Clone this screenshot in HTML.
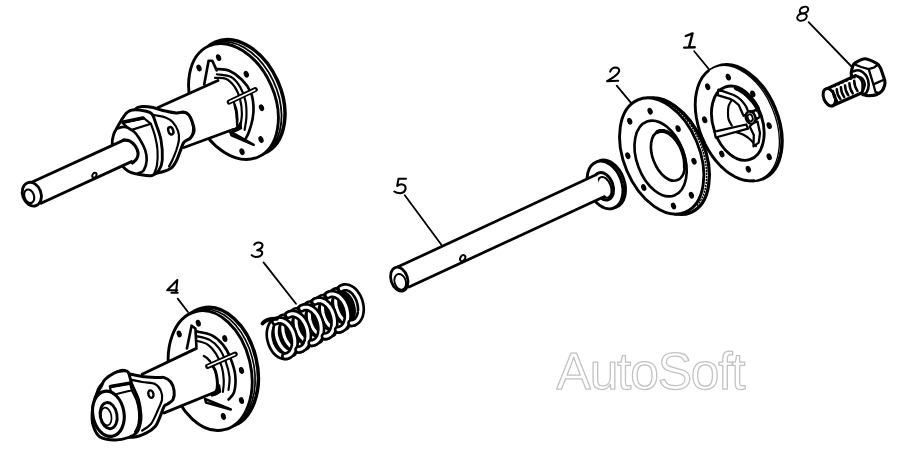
<!DOCTYPE html>
<html><head><meta charset="utf-8"><style>
html,body{margin:0;padding:0;background:#fff;width:900px;height:475px;overflow:hidden}
svg{display:block}
</style></head><body>
<svg width="900" height="475" viewBox="0 0 900 475" stroke="#000" stroke-linecap="round" stroke-linejoin="round" fill="none">
<path d="M692.6 33.4 L685.8 36 M692.6 33.4 L689 47.1 M684.2 47.6 L694.7 47.3" stroke-width="2.4" fill="none" />
<path d="M610.1 71.6 Q612 67.6 615.2 67.6 Q619.5 67.8 619.2 71.1 Q618 75 607.1 81.2 L618.2 80.7" stroke-width="2.04" fill="none" />
<path d="M406 178.8 L398.5 178.8 L397.2 186 Q400 184 401.8 184.3 Q405.8 185 405.6 188.5 Q405 192.8 400.2 193.2 Q396.5 193.2 394.3 191.5" stroke-width="2.04" fill="none" />
<path d="M254.3 244.7 Q256 242.6 258 242.6 Q262.7 242.6 262.5 245.5 Q262 249 257.2 250.2 Q262.7 250.6 262.2 253.2 Q261.5 256.9 256 256.9 Q253 256.9 251.7 255.2" stroke-width="2.04" fill="none" />
<path d="M177.3 280 L167.2 290.2 L177.3 290.2 M177.3 280 L176 292.7 M171.4 292.7 L177.7 292.7" stroke-width="2.04" fill="none" />
<ellipse cx="804" cy="10.1" rx="4.4" ry="3.1" transform="rotate(-25 804 10.1)" stroke-width="2.04" fill="none" /><ellipse cx="802" cy="17.1" rx="4.9" ry="3.5" transform="rotate(-20 802 17.1)" stroke-width="2.04" fill="none" />
<path d="M694.2 51.3 L709 69.2" stroke-width="1.8" fill="none" />
<path d="M616.7 85.7 L632.3 104.4" stroke-width="1.8" fill="none" />
<path d="M404.8 195.3 L442.3 246" stroke-width="1.8" fill="none" />
<path d="M263.5 262.4 L296 303.7" stroke-width="1.8" fill="none" />
<path d="M177.7 298.6 L188 312" stroke-width="1.8" fill="none" />
<path d="M808.6 22.1 L852 67" stroke-width="1.8" fill="none" />
<ellipse cx="240.1" cy="97.5" rx="41" ry="60.7" transform="rotate(-24 240.1 97.5)" stroke-width="3.48" fill="#fff" />
<path d="M195.0 63.6 L198.0 57.1 L201.9 51.6 L206.6 47.2 L212.0 44.0 L218.0 42.2 L224.4 41.6 L231.1 42.4 L238.0 44.5 L244.8 47.9 L251.4 52.5 L257.7 58.2 L263.5 64.9 L268.6 72.3 L273.0 80.4 L276.6 89.0 L279.3 97.7 L280.9 106.6 L281.6 115.2 L281.1 123.5 L279.7 131.3 L277.2 138.3 L273.8 144.3 L269.6 149.4 L264.6 153.3" stroke-width="1.8" fill="none" />
<ellipse cx="233.5" cy="101.5" rx="41" ry="60.7" transform="rotate(-24 233.5 101.5)" stroke-width="2.88" fill="#fff" />
<ellipse cx="199" cy="68" rx="1.6" ry="2.6" transform="rotate(-20 199 68)" stroke-width="1.8" fill="#000" />
<ellipse cx="218.6" cy="57.6" rx="1.6" ry="2.6" transform="rotate(-20 218.6 57.6)" stroke-width="1.8" fill="#000" />
<ellipse cx="246.3" cy="74.2" rx="1.6" ry="2.6" transform="rotate(-20 246.3 74.2)" stroke-width="1.8" fill="#000" />
<ellipse cx="261.5" cy="107.7" rx="1.6" ry="2.6" transform="rotate(-20 261.5 107.7)" stroke-width="1.8" fill="#000" />
<ellipse cx="261" cy="139.5" rx="1.6" ry="2.6" transform="rotate(-20 261 139.5)" stroke-width="1.8" fill="#000" />
<ellipse cx="242" cy="151.7" rx="1.6" ry="2.6" transform="rotate(-20 242 151.7)" stroke-width="1.8" fill="#000" />
<path d="M216.8 69.0 C218.9 69.3 225.1 69.0 229.3 70.8 C233.5 72.6 238.3 76.1 241.9 79.7 C245.5 83.3 248.9 87.8 250.8 92.3 C252.7 96.8 253.2 102.1 253.5 106.6 C253.8 111.1 253.3 114.9 252.6 119.1 C251.8 123.3 250.2 128.4 249.0 131.7 C247.8 135.0 246.1 137.7 245.5 138.9" stroke-width="2.64" fill="none" />
<path d="M216.8 74.3 C219.2 74.8 227.2 74.9 231.1 77.0 C235.0 79.1 237.7 82.9 240.1 86.9 C242.5 90.9 244.4 96.1 245.5 101.2 C246.6 106.3 246.6 112.5 246.4 117.3 C246.2 122.1 244.9 127.8 244.6 129.9" stroke-width="2.16" fill="none" />
<path d="M215.0 77.9 C216.8 78.1 222.5 77.3 225.8 78.8 C229.1 80.3 232.3 83.5 234.7 86.9 C237.1 90.3 238.9 94.9 240.1 99.4 C241.3 103.9 241.9 109.0 241.9 113.8 C241.9 118.6 240.4 125.7 240.1 128.1" stroke-width="2.16" fill="none" />
<path d="M232.9 101.2 C233.5 103.0 235.9 107.8 236.5 112.0 C237.1 116.2 237.1 123.0 236.5 126.3 C235.9 129.6 233.5 130.8 232.9 131.7" stroke-width="3.0" fill="none" />
<path d="M204.2 84.5 L208.6 60.8 L212.3 60.8 L216.7 70.4" stroke-width="2.64" fill="none" />
<path d="M230 131.3 L253.7 144.8 L231.5 135.3 Z" stroke-width="2.52" fill="#fff" />
<path d="M158 107.5 L218 80.5 L232.9 101.2 L236.5 128 L184 147.5 Z" stroke-width="0.0" fill="#fff" />
<path d="M158 107.5 L218 80.5" stroke-width="2.88" fill="none" />
<path d="M184 147.5 L233 129.5" stroke-width="2.88" fill="none" />
<path d="M230.5 130.5 Q238 128 240.5 122 L241.5 128.5 Q238 131 232 132.5 Z" stroke-width="1.44" fill="#000" />
<path d="M229.3 102.1 L255.3 89.6" stroke-width="5.04" fill="none" />
<path d="M229.8 101.8 L254.8 89.9" stroke-width="1.68" fill="none" stroke="#fff"/>
<path d="M135.0 109.3 C138.7 106.2 139.2 106.9 142.2 106.6 C145.2 106.3 149.6 106.9 152.9 107.5 C156.2 108.1 158.0 109.3 161.9 110.2 C165.8 111.1 172.6 112.6 176.2 112.9 C179.8 113.2 181.2 111.7 183.3 112.0 C185.4 112.3 187.2 113.0 188.7 114.7 C190.2 116.4 191.4 119.2 192.3 121.9 C193.2 124.6 194.4 128.1 194.1 130.8 C193.8 133.5 191.8 136.3 190.5 138.0 C189.2 139.7 187.2 139.8 186.0 140.7 C184.8 141.6 184.3 141.4 183.3 143.3 C182.3 145.2 181.0 149.3 179.8 152.3 C178.6 155.3 177.7 158.5 176.2 161.2 C174.7 163.9 173.2 166.6 170.8 168.4 C168.4 170.2 165.5 171.1 161.9 172.0 C158.3 172.9 152.6 173.8 149.3 173.8 C146.0 173.8 145.8 173.0 142.2 172.0 C138.6 171.0 132.0 171.7 128.0 168.0 C124.0 164.3 119.3 157.2 118.0 150.0 C116.7 142.8 117.2 131.8 120.0 125.0 C122.8 118.2 131.3 112.4 135.0 109.3 Z" stroke-width="3.0" fill="#fff" />
<path d="M142.2 111.1 C144.0 111.7 149.0 113.7 152.9 114.7 C156.8 115.8 162.1 116.2 165.4 117.4 C168.7 118.6 170.5 119.7 172.6 121.9 C174.7 124.1 176.9 127.8 178.0 130.8 C179.1 133.8 179.2 136.5 178.9 139.8 C178.6 143.1 177.2 147.2 176.2 150.5 C175.1 153.8 173.8 156.8 172.6 159.5 C171.4 162.2 169.6 165.4 169.0 166.6" stroke-width="2.16" fill="none" />
<path d="M178.0 112.5 C179.5 112.7 184.8 112.5 186.9 113.5 C189.0 114.5 189.5 115.9 190.5 118.3 C191.5 120.7 192.8 125.0 193.0 128.0 C193.2 131.0 192.5 134.2 191.5 136.2 C190.5 138.2 187.7 139.2 186.9 139.8" stroke-width="1.92" fill="none" />
<ellipse cx="170.8" cy="130.8" rx="2.4" ry="3.8" transform="rotate(-20 170.8 130.8)" stroke-width="2.4" fill="none" />
<path d="M120.9 121.0 C122.6 118.4 124.7 114.7 126.6 112.9 C128.5 111.1 129.3 110.3 132.4 110.0 C135.5 109.7 141.7 110.3 145.0 111.0 C148.3 111.7 150.2 111.8 152.0 114.0 C153.8 116.2 154.5 119.7 156.0 124.0 C157.5 128.3 159.9 134.0 161.0 140.0 C162.1 146.0 162.6 155.0 162.3 160.0 C162.0 165.0 160.7 167.4 159.0 170.0 C157.3 172.6 155.2 174.8 152.0 175.5 C148.8 176.2 144.0 175.2 140.0 174.5 C136.0 173.8 131.7 173.4 128.0 171.0 C124.3 168.6 120.6 164.4 118.0 160.0 C115.4 155.6 113.0 148.7 112.3 144.4 C111.6 140.1 113.0 137.0 113.7 134.4 C114.4 131.8 115.4 130.8 116.6 128.6 C117.8 126.4 119.2 123.6 120.9 121.0 Z" stroke-width="2.88" fill="#fff" />
<path d="M122.3 122.9 L143.8 118.2 L151 123.8 L130.9 130.1 Z" stroke-width="2.16" fill="#fff" />
<path d="M123.5 122 L143 118" stroke-width="3.6" fill="none" />
<path d="M151.0 124.0 C151.7 126.0 153.9 131.7 155.0 136.0 C156.1 140.3 157.2 145.2 157.5 150.0 C157.8 154.8 157.6 161.0 157.0 165.0 C156.4 169.0 154.5 172.5 154.0 174.0" stroke-width="2.16" fill="none" />
<path d="M116.6 128.6 C118.0 128.3 122.3 126.5 125.2 127.0 C128.1 127.5 131.4 129.6 133.8 131.5 C136.2 133.4 137.6 135.6 139.5 138.7 C141.4 141.8 144.0 146.5 145.2 150.1 C146.4 153.7 146.9 156.8 146.7 160.1 C146.5 163.4 145.2 168.0 143.8 170.2 C142.4 172.4 139.0 172.9 138.0 173.5" stroke-width="2.64" fill="none" />
<path d="M29.5 183.2 L123.2 141 L133.7 162 L41 203.2 Z" stroke-width="0.0" fill="#fff" />
<path d="M29.5 183.2 L123.8 140.1" stroke-width="2.88" fill="none" />
<path d="M41 203.2 L131.5 161.6" stroke-width="2.88" fill="none" />
<path d="M123.8 140.1 C124.8 140.2 127.6 139.9 129.5 140.8 C131.4 141.8 133.8 143.8 135.2 145.8 C136.6 147.8 137.8 150.8 138.1 153.0 C138.3 155.2 137.6 157.0 136.7 158.7 C135.8 160.4 133.1 162.3 132.4 163.0" stroke-width="3.12" fill="none" />
<ellipse cx="31.8" cy="194.2" rx="9.2" ry="12.2" transform="rotate(-20 31.8 194.2)" stroke-width="2.88" fill="#fff" />
<ellipse cx="29.2" cy="196.3" rx="4.8" ry="7" transform="rotate(-20 29.2 196.3)" stroke-width="2.16" fill="none" />
<ellipse cx="94.4" cy="175.2" rx="1.9" ry="2.6" transform="rotate(30 94.4 175.2)" stroke-width="1.92" fill="#fff" />
<ellipse cx="216.39999999999998" cy="367.20000000000005" rx="40.6" ry="60.8" transform="rotate(-13.5 216.39999999999998 367.20000000000005)" stroke-width="3.48" fill="#fff" />
<path d="M178.9 325.9 L183.0 320.1 L187.8 315.4 L193.2 311.9 L199.0 309.8 L205.2 309.0 L211.5 309.7 L217.9 311.7 L224.2 315.0 L230.2 319.6 L235.9 325.4 L241.0 332.2 L245.4 339.8 L249.2 348.1 L252.0 356.9 L254.0 365.9 L255.0 375.0 L255.1 384.0 L254.1 392.7 L252.2 400.8 L249.4 408.1 L245.8 414.5 L241.4 419.9 L236.4 424.1 L230.8 427.0" stroke-width="1.68" fill="none" />
<ellipse cx="210.2" cy="370.6" rx="40.6" ry="60.8" transform="rotate(-13.5 210.2 370.6)" stroke-width="2.88" fill="#fff" />
<ellipse cx="179.2" cy="333.9" rx="1.6" ry="2.6" transform="rotate(-15 179.2 333.9)" stroke-width="1.8" fill="#000" />
<ellipse cx="198.3" cy="323.2" rx="1.6" ry="2.6" transform="rotate(-15 198.3 323.2)" stroke-width="1.8" fill="#000" />
<ellipse cx="224.8" cy="338.6" rx="1.6" ry="2.6" transform="rotate(-15 224.8 338.6)" stroke-width="1.8" fill="#000" />
<ellipse cx="241.5" cy="370.5" rx="1.6" ry="2.6" transform="rotate(-15 241.5 370.5)" stroke-width="1.8" fill="#000" />
<ellipse cx="241.5" cy="400.6" rx="1.6" ry="2.6" transform="rotate(-15 241.5 400.6)" stroke-width="1.8" fill="#000" />
<ellipse cx="223.4" cy="416.5" rx="1.6" ry="2.6" transform="rotate(-15 223.4 416.5)" stroke-width="1.8" fill="#000" />
<path d="M196.4 331.4 C198.9 332.0 207.1 332.9 211.5 335.1 C215.9 337.3 219.8 340.8 222.9 344.6 C226.1 348.4 228.4 352.8 230.4 357.9 C232.4 362.9 234.6 369.2 235.2 374.9 C235.8 380.6 235.3 387.8 234.2 391.9 C233.1 396.0 229.4 398.2 228.5 399.5" stroke-width="2.64" fill="none" />
<path d="M196.4 336.1 C198.6 336.7 205.8 337.8 209.6 339.9 C213.4 341.9 216.4 344.8 219.1 348.4 C221.8 352.0 224.0 356.9 225.7 361.6 C227.4 366.3 229.0 372.1 229.5 376.8 C230.0 381.5 228.7 387.8 228.5 390.0" stroke-width="2.16" fill="none" />
<path d="M196.4 340.8 C198.3 341.4 204.4 342.4 207.7 344.6 C211.0 346.8 213.8 350.3 216.2 354.1 C218.6 357.9 220.6 362.9 221.9 367.3 C223.2 371.7 223.6 376.5 223.8 380.6 C224.0 384.7 223.1 390.0 222.9 391.9" stroke-width="2.16" fill="none" />
<path d="M209.6 361.6 C210.5 363.0 213.7 366.9 215.0 370.0 C216.3 373.1 216.8 377.0 217.2 380.0 C217.6 383.0 217.5 385.8 217.2 388.1 C216.9 390.4 215.6 392.9 215.3 393.8" stroke-width="3.0" fill="none" />
<path d="M186.9 348.4 L191.6 325.7 L195.4 328.5 L196.4 346.5" stroke-width="2.64" fill="none" />
<path d="M205 398.8 L230.8 409.5 L206 402.6 Z" stroke-width="2.52" fill="#fff" />
<path d="M142.1 374.3 L196.4 348.4 L209.6 361.6 L215.3 393.8 L164.2 412.9 Z" stroke-width="0.0" fill="#fff" />
<path d="M142.1 374.3 L196.4 348.4" stroke-width="2.88" fill="none" />
<path d="M164.2 412.9 L213 393" stroke-width="2.88" fill="none" />
<path d="M210.5 393.8 Q217 391.5 219.5 385 L220.5 392 Q217 395 212 396 Z" stroke-width="1.44" fill="#000" />
<path d="M203.9 356 Q207 357.5 209.6 360.7" stroke-width="2.4" fill="none" />
<path d="M207.7 366.4 L235.2 354.1" stroke-width="5.04" fill="none" />
<path d="M208.2 366.1 L234.7 354.4" stroke-width="1.68" fill="none" stroke="#fff"/>
<path d="M120.0 370.9 C125.5 368.3 127.3 373.4 131.0 374.3 C134.7 375.2 137.7 375.9 142.1 376.5 C146.5 377.1 153.9 377.4 157.6 377.6 C161.3 377.8 162.0 376.9 164.2 377.6 C166.4 378.3 169.2 379.8 170.8 382.0 C172.5 384.2 173.7 387.9 174.1 390.8 C174.5 393.8 174.1 397.5 173.0 399.7 C171.9 401.9 169.0 403.0 167.5 404.1 C166.0 405.2 165.5 404.1 164.2 406.3 C162.9 408.5 161.3 414.0 159.8 417.3 C158.3 420.6 157.6 423.6 155.4 426.2 C153.2 428.8 150.2 431.0 146.5 432.8 C142.8 434.6 137.7 436.8 133.3 437.2 C128.9 437.6 125.5 437.9 120.0 435.0 C114.5 432.1 103.7 427.5 100.0 420.0 C96.3 412.5 94.7 398.2 98.0 390.0 C101.3 381.8 114.5 373.5 120.0 370.9 Z" stroke-width="3.0" fill="#fff" />
<path d="M126.6 378.7 C129.2 379.2 137.3 381.1 142.1 382.0 C146.9 382.9 152.3 382.7 155.4 384.2 C158.5 385.7 159.8 388.2 160.9 390.8 C162.0 393.4 162.6 396.4 162.0 399.7 C161.4 403.0 159.4 406.6 157.6 410.7 C155.8 414.8 153.5 420.7 150.9 424.0 C148.3 427.3 143.6 429.5 142.1 430.6" stroke-width="2.16" fill="none" />
<ellipse cx="150.9" cy="394.1" rx="2.5" ry="3.8" transform="rotate(-15 150.9 394.1)" stroke-width="2.4" fill="none" />
<path d="M101.5 386.0 C103.2 382.9 102.8 381.7 105.0 379.5 C107.2 377.3 112.2 374.0 115.0 372.6 C117.8 371.2 119.5 371.1 121.7 371.0 C123.9 370.9 126.3 369.8 128.0 372.0 C129.7 374.2 130.0 379.3 131.8 384.0 C133.6 388.7 137.1 394.8 138.6 400.0 C140.1 405.2 140.7 411.0 141.0 415.0 C141.3 419.0 140.9 421.1 140.2 424.0 C139.5 426.9 138.8 430.1 136.9 432.4 C135.0 434.6 132.2 436.2 128.5 437.5 C124.8 438.8 119.8 440.1 115.0 440.0 C110.2 439.9 103.7 439.5 100.0 437.0 C96.3 434.5 94.3 429.2 93.0 425.0 C91.7 420.8 91.9 416.5 92.2 412.0 C92.5 407.5 93.5 402.3 95.0 398.0 C96.5 393.7 99.8 389.1 101.5 386.0 Z" stroke-width="2.88" fill="#fff" />
<path d="M109.9 386.9 L130.1 383.5 L131.8 390.3 L111.6 395.3 Z" stroke-width="2.16" fill="#fff" />
<path d="M110.5 386.5 L129.5 383.3" stroke-width="3.6" fill="none" />
<path d="M131.8 390.3 C132.6 391.9 135.3 396.4 136.5 400.0 C137.7 403.6 138.7 408.0 139.0 412.0 C139.3 416.0 139.2 420.7 138.5 424.0 C137.8 427.3 135.6 430.7 135.0 432.0" stroke-width="2.16" fill="none" />
<ellipse cx="108.4" cy="413.8" rx="15.6" ry="22.8" transform="rotate(-10 108.4 413.8)" stroke-width="3.12" fill="#fff" />
<ellipse cx="108.6" cy="415.6" rx="8.4" ry="13.2" transform="rotate(-10 108.6 415.6)" stroke-width="2.88" fill="none" />
<ellipse cx="106.2" cy="416.5" rx="5.2" ry="9" transform="rotate(-10 106.2 416.5)" stroke-width="1.68" fill="none" />
<ellipse cx="667.2" cy="156.2" rx="37.8" ry="61" transform="rotate(-22.9 667.2 156.2)" stroke-width="3.24" fill="#fff" />
<ellipse cx="661.7" cy="156" rx="37.8" ry="61" transform="rotate(-22.9 661.7 156)" stroke-width="2.88" fill="#fff" />
<ellipse cx="660.6" cy="158.5" rx="23.7" ry="39.4" transform="rotate(-20.3 660.6 158.5)" stroke-width="2.64" fill="none" />
<ellipse cx="667.9" cy="155.8" rx="15.1" ry="26.1" transform="rotate(-21.4 667.9 155.8)" stroke-width="2.64" fill="none" />
<path d="M657.2 132.1 L658.5 131.4 L660.0 131.0 L661.5 130.9 L663.0 131.0 L664.7 131.3 L666.3 131.8 L668.0 132.6 L669.6 133.6 L671.3 134.9 L672.9 136.3 L674.5 137.9 L676.0 139.7 L677.4 141.6 L678.7 143.7 L680.0 145.9 L681.1 148.2 L682.1 150.6 L682.9 153.0 L683.6 155.4 L684.2 157.9 L684.6 160.3 L684.8 162.7 L684.9 165.0 L684.8 167.2" stroke-width="3.96" fill="none" />
<path d="M650.6 97.7 L655.0 98.1 L659.5 99.2 L664.1 100.9 L668.7 103.3 L673.2 106.3 L677.7 109.9 L682.0 114.1 L686.0 118.7 L689.8 123.8 L693.4 129.3 L696.5 135.1 L699.3 141.1 L701.7 147.3 L703.6 153.6 L705.1 159.9 L706.1 166.2 L706.6 172.4 L706.6 178.3 L706.1 184.0 L705.1 189.4 L703.6 194.4 L701.6 198.9 L699.2 202.8 L696.4 206.3" stroke-width="1.56" fill="none" stroke-dasharray="0.8 2.2"/>
<ellipse cx="650.1" cy="111.2" rx="1.6" ry="2.6" transform="rotate(-20 650.1 111.2)" stroke-width="1.8" fill="#000" />
<ellipse cx="629.7" cy="121.2" rx="1.6" ry="2.6" transform="rotate(-20 629.7 121.2)" stroke-width="1.8" fill="#000" />
<ellipse cx="627.8" cy="155.7" rx="1.6" ry="2.6" transform="rotate(-20 627.8 155.7)" stroke-width="1.8" fill="#000" />
<ellipse cx="643.7" cy="187.5" rx="1.6" ry="2.6" transform="rotate(-20 643.7 187.5)" stroke-width="1.8" fill="#000" />
<ellipse cx="673.5" cy="206" rx="1.6" ry="2.6" transform="rotate(-20 673.5 206)" stroke-width="1.8" fill="#000" />
<ellipse cx="691.4" cy="195.2" rx="1.6" ry="2.6" transform="rotate(-20 691.4 195.2)" stroke-width="1.8" fill="#000" />
<ellipse cx="694" cy="161.2" rx="1.6" ry="2.6" transform="rotate(-20 694 161.2)" stroke-width="1.8" fill="#000" />
<ellipse cx="678.1" cy="128.6" rx="1.6" ry="2.6" transform="rotate(-20 678.1 128.6)" stroke-width="1.8" fill="#000" />
<ellipse cx="739.9" cy="122.7" rx="38" ry="60.5" transform="rotate(-22.5 739.9 122.7)" stroke-width="3.48" fill="#fff" />
<ellipse cx="737.3" cy="123.2" rx="38" ry="60.5" transform="rotate(-22.5 737.3 123.2)" stroke-width="1.32" fill="#fff" />
<path d="M754.0 180.8 L749.4 180.9 L744.7 180.3 L739.8 178.9 L734.9 176.7 L730.0 173.8 L725.3 170.3 L720.7 166.1 L716.3 161.3 L712.2 156.0 L708.5 150.2 L705.1 144.1 L702.2 137.7 L699.7 131.2 L697.8 124.5 L696.4 117.7 L695.5 111.1 L695.2 104.6 L695.5 98.4 L696.4 92.5 L697.8 87.0 L699.7 82.1 L702.1 77.6 L705.1 73.8 L708.4 70.7" stroke-width="2.88" fill="none" />
<ellipse cx="737.8" cy="123.2" rx="24.6" ry="38.3" transform="rotate(-18.7 737.8 123.2)" stroke-width="2.88" fill="none" />
<path d="M736.0 88.0 C736.8 88.4 739.2 89.4 741.0 90.5 C742.8 91.6 744.8 93.0 746.5 94.5 C748.2 96.0 750.1 98.1 751.5 99.7 C752.9 101.3 754.0 102.5 755.0 104.0 C756.0 105.5 757.3 107.8 757.8 108.6" stroke-width="4.56" fill="none" />
<path d="M731.8 99.7 C731.3 100.8 729.2 103.8 728.6 106.0 C728.0 108.2 728.0 110.8 728.0 113.0 C728.0 115.2 728.0 117.3 728.6 119.4 C729.2 121.5 731.3 124.6 731.8 125.6" stroke-width="2.16" fill="none" />
<path d="M735.4 131.9 C736.7 132.3 740.6 133.3 743.0 134.5 C745.4 135.7 747.5 137.1 749.7 139.0 C751.9 140.9 755.0 145.0 756.0 146.2" stroke-width="2.04" fill="none" />
<ellipse cx="728.3" cy="77.1" rx="1.6" ry="2.6" transform="rotate(-20 728.3 77.1)" stroke-width="1.8" fill="#000" />
<ellipse cx="707.7" cy="86.7" rx="1.6" ry="2.6" transform="rotate(-20 707.7 86.7)" stroke-width="1.8" fill="#000" />
<ellipse cx="704.7" cy="119.8" rx="1.6" ry="2.6" transform="rotate(-20 704.7 119.8)" stroke-width="1.8" fill="#000" />
<ellipse cx="721.8" cy="154" rx="1.6" ry="2.6" transform="rotate(-20 721.8 154)" stroke-width="1.8" fill="#000" />
<ellipse cx="748.3" cy="169.2" rx="1.6" ry="2.6" transform="rotate(-20 748.3 169.2)" stroke-width="1.8" fill="#000" />
<ellipse cx="769.2" cy="156.8" rx="1.6" ry="2.6" transform="rotate(-20 769.2 156.8)" stroke-width="1.8" fill="#000" />
<ellipse cx="769.2" cy="125.6" rx="1.6" ry="2.6" transform="rotate(-20 769.2 125.6)" stroke-width="1.8" fill="#000" />
<ellipse cx="752.8" cy="93.9" rx="1.6" ry="2.6" transform="rotate(-20 752.8 93.9)" stroke-width="1.8" fill="#000" />
<path d="M718.4 89.6 L733.6 95 Q738 97 740.8 99.7 Q744 103 746.2 106.8 L748.8 113.1 L743.5 115.8 L740.5 109 Q739 105 738.1 104.5 Q734 100.5 730 98.8 L717.5 95.2 Z" stroke-width="2.28" fill="#fff" />
<path d="M714.6 131.6 L746.2 124.5 L748 128.6 L715.7 137.5 Z" stroke-width="2.28" fill="#fff" />
<path d="M753.3 122.8 L757.5 121.5 L760 133 L758.7 142.6 L753.5 146.4 L753.8 135 L749.7 126.5 Z" stroke-width="2.28" fill="#fff" />
<path d="M746 112 L755 110 L759 118 L752 123 Z" stroke-width="0.0" fill="#fff" />
<ellipse cx="756.5" cy="114.3" rx="2.6" ry="4.3" transform="rotate(-20 756.5 114.3)" stroke-width="2.16" fill="#fff" />
<path d="M750.8 111.4 L756 110.2 M752 123.6 L757.3 118.4" stroke-width="2.16" fill="none" />
<ellipse cx="750.6" cy="117.6" rx="4.7" ry="6.4" transform="rotate(-20 750.6 117.6)" stroke-width="2.52" fill="#fff" />
<ellipse cx="750.2" cy="117.8" rx="2.4" ry="3.6" transform="rotate(-20 750.2 117.8)" stroke-width="1.8" fill="none" />
<path d="M853.5 64.5 C854.1 63.4 856.2 62.2 857.3 61.6 C858.4 61.0 863.3 58.8 864.9 58.8 C866.5 58.8 872.1 61.0 873.4 61.6 C874.7 62.2 877.4 63.7 878.2 64.5 C879.0 65.3 880.5 68.2 881.0 69.2 C881.5 70.2 882.5 73.8 882.9 74.9 C883.3 76.0 884.6 79.5 884.8 80.6 C885.0 81.7 884.9 84.5 884.6 85.5 C884.3 86.5 882.7 90.1 881.9 91.0 C881.1 91.9 877.6 94.3 876.3 94.8 C875.0 95.3 869.9 95.7 868.7 95.7 C867.5 95.7 864.9 95.2 863.9 94.8 C862.9 94.4 860.1 93.3 859.0 92.0 C857.9 90.7 853.8 83.9 853.0 82.0 C852.2 80.1 851.2 74.8 851.2 73.0 C851.2 71.2 852.9 65.6 853.5 64.5 Z" stroke-width="3.12" fill="#fff" />
<path d="M855.5 64.8 L861.1 67 L868.7 69.2 L874 67.5 L878.2 64.5" stroke-width="2.28" fill="none" />
<path d="M868.7 69.2 L873.4 84.4 L883.8 79.8 M873.4 84.4 L875.5 92 L879.5 93.2" stroke-width="2.28" fill="none" />
<path d="M852.5 71.5 C853.4 71.3 856.3 70.2 858.0 70.3 C859.7 70.4 861.0 70.9 862.5 72.0 C864.0 73.1 865.8 74.7 866.8 76.8 C867.8 78.9 868.7 81.9 868.7 84.4 C868.7 86.9 867.8 90.3 866.8 92.0 C865.8 93.7 863.6 94.3 863.0 94.8" stroke-width="2.64" fill="none" />
<path d="M856.4 76.8 C857.2 76.9 859.8 76.9 861.0 77.5 C862.2 78.1 863.1 79.2 863.8 80.5 C864.4 81.8 865.0 83.5 864.9 85.3 C864.8 87.0 863.3 90.0 863.0 91.0" stroke-width="2.16" fill="none" />
<path d="M827.1 88.7 L855 75.8 L862.5 82 L862 92.8 L832.3 105.7 Z" stroke-width="0.0" fill="#fff" />
<path d="M827.1 88.7 L855.5 75.6" stroke-width="3.12" fill="none" />
<path d="M832.3 105.7 L862 92.8" stroke-width="3.12" fill="none" />
<ellipse cx="829.3" cy="97.3" rx="5.6" ry="9.1" transform="rotate(-22 829.3 97.3)" stroke-width="3.0" fill="#fff" />
<path d="M833.0 91.1 Q833.2 96.8 837 100.9" stroke-width="2.52" fill="none" />
<path d="M836.8 89.2 Q837.0 94.9 840.4 99" stroke-width="2.52" fill="none" />
<path d="M840.9 87.3 Q841.1 93.0 844.2 97.1" stroke-width="2.52" fill="none" />
<path d="M845.0 85.4 Q845.2 91.1 848.3 95.2" stroke-width="2.52" fill="none" />
<path d="M849.4 83.2 Q849.6 89.0 852.7 93.3" stroke-width="2.52" fill="none" />
<path d="M854.2 80.8 Q854.4 86.7 857.5 91" stroke-width="2.52" fill="none" />
<path d="M829 87.8 L831 87.5 L832 86 L835 86.4 L836 84.3 L839 84.6 L840 82.5 L843 82.8 L844 80.8 L847 81 L848 79 L851 79.3 L852 77.3 L855 77.6" stroke-width="1.56" fill="none" />
<path d="M855.5 75.6 C856.2 75.9 858.4 76.4 859.5 77.5 C860.6 78.6 861.8 80.2 862.3 82.0 C862.8 83.8 862.6 86.2 862.6 88.0 C862.6 89.8 862.1 92.0 862.0 92.8" stroke-width="2.64" fill="none" />
<ellipse cx="291.5" cy="333.7" rx="11" ry="17.3" transform="rotate(-16 291.5 333.7)" stroke-width="0.0" fill="#000" />
<ellipse cx="304.7" cy="327.0" rx="11" ry="17.3" transform="rotate(-16 304.7 327.0)" stroke-width="0.0" fill="#000" />
<ellipse cx="317.9" cy="320.4" rx="11" ry="17.3" transform="rotate(-16 317.9 320.4)" stroke-width="0.0" fill="#000" />
<ellipse cx="331.1" cy="313.8" rx="11" ry="17.3" transform="rotate(-16 331.1 313.8)" stroke-width="0.0" fill="#000" />
<ellipse cx="344.3" cy="307.2" rx="11" ry="17.3" transform="rotate(-16 344.3 307.2)" stroke-width="0.0" fill="#000" />
<path d="M354.3 322.4 L352.8 322.9 L351.1 323.1 L349.4 322.9 L347.6 322.4 L345.9 321.6 L344.2 320.4 L342.6 319.0 L341.1 317.3 L339.8 315.3 L338.6 313.2 L337.6 310.9 L336.8 308.5 L336.2 306.1 L335.8 303.6 L335.7 301.1 L335.8 298.8 L336.2 296.5 L336.8 294.5 L337.6 292.6 L338.6 291.0 L339.8 289.6 L341.2 288.5 L342.7 287.8 L344.3 287.4" stroke-width="8.4" fill="none" />
<path d="M354.3 322.4 L352.8 322.9 L351.1 323.1 L349.4 322.9 L347.6 322.4 L345.9 321.6 L344.2 320.4 L342.6 319.0 L341.1 317.3 L339.8 315.3 L338.6 313.2 L337.6 310.9 L336.8 308.5 L336.2 306.1 L335.8 303.6 L335.7 301.1 L335.8 298.8 L336.2 296.5 L336.8 294.5 L337.6 292.6 L338.6 291.0 L339.8 289.6 L341.2 288.5 L342.7 287.8 L344.3 287.4" stroke-width="3.12" fill="none" stroke="#fff"/>
<path d="M341.1 329.1 L339.5 329.6 L337.9 329.7 L336.1 329.5 L334.4 329.0 L332.7 328.2 L331.0 327.0 L329.4 325.6 L327.9 323.9 L326.6 321.9 L325.4 319.8 L324.3 317.5 L323.5 315.1 L323.0 312.7 L322.6 310.2 L322.5 307.8 L322.6 305.4 L323.0 303.2 L323.6 301.1 L324.4 299.2 L325.4 297.6 L326.6 296.2 L328.0 295.2 L329.5 294.4 L331.1 294.0" stroke-width="8.4" fill="none" />
<path d="M341.1 329.1 L339.5 329.6 L337.9 329.7 L336.1 329.5 L334.4 329.0 L332.7 328.2 L331.0 327.0 L329.4 325.6 L327.9 323.9 L326.6 321.9 L325.4 319.8 L324.3 317.5 L323.5 315.1 L323.0 312.7 L322.6 310.2 L322.5 307.8 L322.6 305.4 L323.0 303.2 L323.6 301.1 L324.4 299.2 L325.4 297.6 L326.6 296.2 L328.0 295.2 L329.5 294.4 L331.1 294.0" stroke-width="3.12" fill="none" stroke="#fff"/>
<path d="M327.9 335.7 L326.3 336.2 L324.6 336.3 L322.9 336.2 L321.2 335.6 L319.5 334.8 L317.8 333.6 L316.2 332.2 L314.7 330.5 L313.3 328.6 L312.1 326.4 L311.1 324.1 L310.3 321.7 L309.7 319.3 L309.4 316.8 L309.3 314.4 L309.4 312.0 L309.8 309.8 L310.3 307.7 L311.2 305.8 L312.2 304.2 L313.4 302.8 L314.7 301.8 L316.2 301.0 L317.8 300.6" stroke-width="8.4" fill="none" />
<path d="M327.9 335.7 L326.3 336.2 L324.6 336.3 L322.9 336.2 L321.2 335.6 L319.5 334.8 L317.8 333.6 L316.2 332.2 L314.7 330.5 L313.3 328.6 L312.1 326.4 L311.1 324.1 L310.3 321.7 L309.7 319.3 L309.4 316.8 L309.3 314.4 L309.4 312.0 L309.8 309.8 L310.3 307.7 L311.2 305.8 L312.2 304.2 L313.4 302.8 L314.7 301.8 L316.2 301.0 L317.8 300.6" stroke-width="3.12" fill="none" stroke="#fff"/>
<path d="M314.7 342.3 L313.1 342.8 L311.4 343.0 L309.7 342.8 L308.0 342.3 L306.2 341.4 L304.6 340.3 L303.0 338.8 L301.5 337.1 L300.1 335.2 L298.9 333.0 L297.9 330.8 L297.1 328.4 L296.5 325.9 L296.2 323.4 L296.1 321.0 L296.2 318.6 L296.5 316.4 L297.1 314.3 L297.9 312.5 L299.0 310.8 L300.2 309.5 L301.5 308.4 L303.0 307.7 L304.6 307.2" stroke-width="8.4" fill="none" />
<path d="M314.7 342.3 L313.1 342.8 L311.4 343.0 L309.7 342.8 L308.0 342.3 L306.2 341.4 L304.6 340.3 L303.0 338.8 L301.5 337.1 L300.1 335.2 L298.9 333.0 L297.9 330.8 L297.1 328.4 L296.5 325.9 L296.2 323.4 L296.1 321.0 L296.2 318.6 L296.5 316.4 L297.1 314.3 L297.9 312.5 L299.0 310.8 L300.2 309.5 L301.5 308.4 L303.0 307.7 L304.6 307.2" stroke-width="3.12" fill="none" stroke="#fff"/>
<path d="M301.5 348.9 L299.9 349.4 L298.2 349.6 L296.5 349.4 L294.8 348.9 L293.0 348.0 L291.3 346.9 L289.7 345.4 L288.3 343.7 L286.9 341.8 L285.7 339.7 L284.7 337.4 L283.9 335.0 L283.3 332.5 L282.9 330.1 L282.8 327.6 L283.0 325.3 L283.3 323.0 L283.9 320.9 L284.7 319.1 L285.7 317.4 L286.9 316.1 L288.3 315.0 L289.8 314.3 L291.4 313.9" stroke-width="8.4" fill="none" />
<path d="M301.5 348.9 L299.9 349.4 L298.2 349.6 L296.5 349.4 L294.8 348.9 L293.0 348.0 L291.3 346.9 L289.7 345.4 L288.3 343.7 L286.9 341.8 L285.7 339.7 L284.7 337.4 L283.9 335.0 L283.3 332.5 L282.9 330.1 L282.8 327.6 L283.0 325.3 L283.3 323.0 L283.9 320.9 L284.7 319.1 L285.7 317.4 L286.9 316.1 L288.3 315.0 L289.8 314.3 L291.4 313.9" stroke-width="3.12" fill="none" stroke="#fff"/>
<path d="M288.2 355.5 L286.7 356.0 L285.0 356.2 L283.3 356.0 L281.5 355.5 L279.8 354.7 L278.1 353.5 L276.5 352.1 L275.0 350.4 L273.7 348.4 L272.5 346.3 L271.5 344.0 L270.7 341.6 L270.1 339.2 L269.7 336.7 L269.6 334.2 L269.7 331.9 L270.1 329.6 L270.7 327.6 L271.5 325.7 L272.5 324.1 L273.7 322.7 L275.1 321.6 L276.6 320.9 L278.2 320.5" stroke-width="8.4" fill="none" />
<path d="M288.2 355.5 L286.7 356.0 L285.0 356.2 L283.3 356.0 L281.5 355.5 L279.8 354.7 L278.1 353.5 L276.5 352.1 L275.0 350.4 L273.7 348.4 L272.5 346.3 L271.5 344.0 L270.7 341.6 L270.1 339.2 L269.7 336.7 L269.6 334.2 L269.7 331.9 L270.1 329.6 L270.7 327.6 L271.5 325.7 L272.5 324.1 L273.7 322.7 L275.1 321.6 L276.6 320.9 L278.2 320.5" stroke-width="3.12" fill="none" stroke="#fff"/>
<path d="M345.7 326.3 L344.2 326.4 L342.7 326.2 L341.1 325.7 L339.6 325.0 L338.1 324.0 L336.6 322.8 L335.2 321.4 L333.9 319.8 L332.8 318.0 L331.7 316.0 L330.9 314.0 L330.2 311.8 L329.6 309.6 L329.3 307.4 L329.1 305.2 L329.1 303.1 L329.4 301.0 L329.8 299.1 L330.4 297.3 L331.1 295.6 L332.1 294.2 L333.1 293.0 L334.3 292.0 L335.7 291.3" stroke-width="8.4" fill="none" />
<path d="M345.7 326.3 L344.2 326.4 L342.7 326.2 L341.1 325.7 L339.6 325.0 L338.1 324.0 L336.6 322.8 L335.2 321.4 L333.9 319.8 L332.8 318.0 L331.7 316.0 L330.9 314.0 L330.2 311.8 L329.6 309.6 L329.3 307.4 L329.1 305.2 L329.1 303.1 L329.4 301.0 L329.8 299.1 L330.4 297.3 L331.1 295.6 L332.1 294.2 L333.1 293.0 L334.3 292.0 L335.7 291.3" stroke-width="3.12" fill="none" stroke="#fff"/>
<path d="M332.5 332.9 L331.0 333.0 L329.4 332.8 L327.9 332.4 L326.3 331.6 L324.8 330.7 L323.4 329.5 L322.0 328.0 L320.7 326.4 L319.5 324.6 L318.5 322.6 L317.6 320.6 L316.9 318.4 L316.4 316.2 L316.1 314.0 L315.9 311.8 L315.9 309.7 L316.1 307.6 L316.6 305.7 L317.2 303.9 L317.9 302.3 L318.8 300.8 L319.9 299.6 L321.1 298.6 L322.4 297.9" stroke-width="8.4" fill="none" />
<path d="M332.5 332.9 L331.0 333.0 L329.4 332.8 L327.9 332.4 L326.3 331.6 L324.8 330.7 L323.4 329.5 L322.0 328.0 L320.7 326.4 L319.5 324.6 L318.5 322.6 L317.6 320.6 L316.9 318.4 L316.4 316.2 L316.1 314.0 L315.9 311.8 L315.9 309.7 L316.1 307.6 L316.6 305.7 L317.2 303.9 L317.9 302.3 L318.8 300.8 L319.9 299.6 L321.1 298.6 L322.4 297.9" stroke-width="3.12" fill="none" stroke="#fff"/>
<path d="M319.3 339.6 L317.8 339.6 L316.2 339.5 L314.7 339.0 L313.1 338.3 L311.6 337.3 L310.2 336.1 L308.8 334.6 L307.5 333.0 L306.3 331.2 L305.3 329.3 L304.4 327.2 L303.7 325.1 L303.2 322.9 L302.8 320.7 L302.7 318.5 L302.7 316.3 L302.9 314.3 L303.3 312.3 L303.9 310.5 L304.7 308.9 L305.6 307.4 L306.7 306.2 L307.9 305.2 L309.2 304.5" stroke-width="8.4" fill="none" />
<path d="M319.3 339.6 L317.8 339.6 L316.2 339.5 L314.7 339.0 L313.1 338.3 L311.6 337.3 L310.2 336.1 L308.8 334.6 L307.5 333.0 L306.3 331.2 L305.3 329.3 L304.4 327.2 L303.7 325.1 L303.2 322.9 L302.8 320.7 L302.7 318.5 L302.7 316.3 L302.9 314.3 L303.3 312.3 L303.9 310.5 L304.7 308.9 L305.6 307.4 L306.7 306.2 L307.9 305.2 L309.2 304.5" stroke-width="3.12" fill="none" stroke="#fff"/>
<path d="M306.0 346.2 L304.5 346.3 L303.0 346.1 L301.5 345.6 L299.9 344.9 L298.4 343.9 L296.9 342.7 L295.6 341.3 L294.3 339.6 L293.1 337.8 L292.1 335.9 L291.2 333.8 L290.5 331.7 L290.0 329.5 L289.6 327.3 L289.5 325.1 L289.5 322.9 L289.7 320.9 L290.1 318.9 L290.7 317.1 L291.5 315.5 L292.4 314.1 L293.5 312.8 L294.7 311.9 L296.0 311.1" stroke-width="8.4" fill="none" />
<path d="M306.0 346.2 L304.5 346.3 L303.0 346.1 L301.5 345.6 L299.9 344.9 L298.4 343.9 L296.9 342.7 L295.6 341.3 L294.3 339.6 L293.1 337.8 L292.1 335.9 L291.2 333.8 L290.5 331.7 L290.0 329.5 L289.6 327.3 L289.5 325.1 L289.5 322.9 L289.7 320.9 L290.1 318.9 L290.7 317.1 L291.5 315.5 L292.4 314.1 L293.5 312.8 L294.7 311.9 L296.0 311.1" stroke-width="3.12" fill="none" stroke="#fff"/>
<path d="M292.8 352.8 L291.3 352.9 L289.8 352.7 L288.2 352.2 L286.7 351.5 L285.2 350.5 L283.7 349.3 L282.3 347.9 L281.1 346.3 L279.9 344.4 L278.9 342.5 L278.0 340.4 L277.3 338.3 L276.7 336.1 L276.4 333.9 L276.2 331.7 L276.3 329.6 L276.5 327.5 L276.9 325.5 L277.5 323.7 L278.3 322.1 L279.2 320.7 L280.3 319.5 L281.5 318.5 L282.8 317.8" stroke-width="8.4" fill="none" />
<path d="M292.8 352.8 L291.3 352.9 L289.8 352.7 L288.2 352.2 L286.7 351.5 L285.2 350.5 L283.7 349.3 L282.3 347.9 L281.1 346.3 L279.9 344.4 L278.9 342.5 L278.0 340.4 L277.3 338.3 L276.7 336.1 L276.4 333.9 L276.2 331.7 L276.3 329.6 L276.5 327.5 L276.9 325.5 L277.5 323.7 L278.3 322.1 L279.2 320.7 L280.3 319.5 L281.5 318.5 L282.8 317.8" stroke-width="3.12" fill="none" stroke="#fff"/>
<path d="M275.2 321.6 L276.8 320.8 L278.5 320.4 L280.3 320.5 L282.1 320.8 L284.0 321.6 L285.8 322.7 L287.5 324.1 L289.1 325.9 L290.5 327.9 L291.8 330.1 L292.9 332.5 L293.7 335.0 L294.3 337.6 L294.7 340.2 L294.8 342.7 L294.6 345.2 L294.2 347.5 L293.5 349.6 L292.5 351.5 L291.4 353.1 L290.1 354.4 L288.5 355.4 L286.9 356.0 L285.2 356.2" stroke-width="8.4" fill="none" />
<path d="M275.2 321.6 L276.8 320.8 L278.5 320.4 L280.3 320.5 L282.1 320.8 L284.0 321.6 L285.8 322.7 L287.5 324.1 L289.1 325.9 L290.5 327.9 L291.8 330.1 L292.9 332.5 L293.7 335.0 L294.3 337.6 L294.7 340.2 L294.8 342.7 L294.6 345.2 L294.2 347.5 L293.5 349.6 L292.5 351.5 L291.4 353.1 L290.1 354.4 L288.5 355.4 L286.9 356.0 L285.2 356.2" stroke-width="3.12" fill="none" stroke="#fff"/>
<path d="M288.4 314.9 L290.0 314.2 L291.7 313.8 L293.5 313.8 L295.4 314.2 L297.2 315.0 L299.0 316.1 L300.7 317.5 L302.3 319.3 L303.7 321.2 L305.0 323.5 L306.1 325.9 L307.0 328.4 L307.6 331.0 L307.9 333.6 L308.0 336.1 L307.8 338.6 L307.4 340.9 L306.7 343.0 L305.8 344.9 L304.6 346.5 L303.3 347.8 L301.8 348.8 L300.1 349.4 L298.4 349.6" stroke-width="8.4" fill="none" />
<path d="M288.4 314.9 L290.0 314.2 L291.7 313.8 L293.5 313.8 L295.4 314.2 L297.2 315.0 L299.0 316.1 L300.7 317.5 L302.3 319.3 L303.7 321.2 L305.0 323.5 L306.1 325.9 L307.0 328.4 L307.6 331.0 L307.9 333.6 L308.0 336.1 L307.8 338.6 L307.4 340.9 L306.7 343.0 L305.8 344.9 L304.6 346.5 L303.3 347.8 L301.8 348.8 L300.1 349.4 L298.4 349.6" stroke-width="3.12" fill="none" stroke="#fff"/>
<path d="M301.7 308.3 L303.3 307.6 L305.0 307.2 L306.8 307.2 L308.6 307.6 L310.4 308.4 L312.2 309.5 L313.9 310.9 L315.5 312.6 L317.0 314.6 L318.2 316.8 L319.3 319.2 L320.2 321.8 L320.8 324.3 L321.1 326.9 L321.2 329.5 L321.0 332.0 L320.6 334.3 L319.9 336.4 L319.0 338.3 L317.8 339.9 L316.5 341.2 L315.0 342.1 L313.3 342.7 L311.6 343.0" stroke-width="8.4" fill="none" />
<path d="M301.7 308.3 L303.3 307.6 L305.0 307.2 L306.8 307.2 L308.6 307.6 L310.4 308.4 L312.2 309.5 L313.9 310.9 L315.5 312.6 L317.0 314.6 L318.2 316.8 L319.3 319.2 L320.2 321.8 L320.8 324.3 L321.1 326.9 L321.2 329.5 L321.0 332.0 L320.6 334.3 L319.9 336.4 L319.0 338.3 L317.8 339.9 L316.5 341.2 L315.0 342.1 L313.3 342.7 L311.6 343.0" stroke-width="3.12" fill="none" stroke="#fff"/>
<path d="M314.9 301.7 L316.5 301.0 L318.2 300.6 L320.0 300.6 L321.8 301.0 L323.6 301.7 L325.4 302.8 L327.1 304.3 L328.7 306.0 L330.2 308.0 L331.5 310.2 L332.5 312.6 L333.4 315.1 L334.0 317.7 L334.4 320.3 L334.4 322.9 L334.3 325.3 L333.8 327.7 L333.1 329.8 L332.2 331.7 L331.1 333.3 L329.7 334.6 L328.2 335.5 L326.6 336.1 L324.8 336.3" stroke-width="8.4" fill="none" />
<path d="M314.9 301.7 L316.5 301.0 L318.2 300.6 L320.0 300.6 L321.8 301.0 L323.6 301.7 L325.4 302.8 L327.1 304.3 L328.7 306.0 L330.2 308.0 L331.5 310.2 L332.5 312.6 L333.4 315.1 L334.0 317.7 L334.4 320.3 L334.4 322.9 L334.3 325.3 L333.8 327.7 L333.1 329.8 L332.2 331.7 L331.1 333.3 L329.7 334.6 L328.2 335.5 L326.6 336.1 L324.8 336.3" stroke-width="3.12" fill="none" stroke="#fff"/>
<path d="M328.1 295.1 L329.7 294.3 L331.4 294.0 L333.2 294.0 L335.0 294.4 L336.8 295.1 L338.6 296.2 L340.3 297.7 L341.9 299.4 L343.4 301.4 L344.7 303.6 L345.8 306.0 L346.6 308.5 L347.2 311.1 L347.6 313.7 L347.7 316.3 L347.5 318.7 L347.1 321.0 L346.4 323.2 L345.4 325.1 L344.3 326.7 L342.9 328.0 L341.4 328.9 L339.8 329.5 L338.0 329.7" stroke-width="8.4" fill="none" />
<path d="M328.1 295.1 L329.7 294.3 L331.4 294.0 L333.2 294.0 L335.0 294.4 L336.8 295.1 L338.6 296.2 L340.3 297.7 L341.9 299.4 L343.4 301.4 L344.7 303.6 L345.8 306.0 L346.6 308.5 L347.2 311.1 L347.6 313.7 L347.7 316.3 L347.5 318.7 L347.1 321.0 L346.4 323.2 L345.4 325.1 L344.3 326.7 L342.9 328.0 L341.4 328.9 L339.8 329.5 L338.0 329.7" stroke-width="3.12" fill="none" stroke="#fff"/>
<path d="M341.3 288.5 L342.9 287.7 L344.6 287.3 L346.4 287.4 L348.2 287.7 L350.1 288.5 L351.9 289.6 L353.6 291.0 L355.2 292.8 L356.6 294.8 L357.9 297.0 L359.0 299.4 L359.8 301.9 L360.4 304.5 L360.8 307.1 L360.9 309.6 L360.7 312.1 L360.3 314.4 L359.6 316.5 L358.6 318.4 L357.5 320.0 L356.2 321.3 L354.6 322.3 L353.0 322.9 L351.3 323.1" stroke-width="8.4" fill="none" />
<path d="M341.3 288.5 L342.9 287.7 L344.6 287.3 L346.4 287.4 L348.2 287.7 L350.1 288.5 L351.9 289.6 L353.6 291.0 L355.2 292.8 L356.6 294.8 L357.9 297.0 L359.0 299.4 L359.8 301.9 L360.4 304.5 L360.8 307.1 L360.9 309.6 L360.7 312.1 L360.3 314.4 L359.6 316.5 L358.6 318.4 L357.5 320.0 L356.2 321.3 L354.6 322.3 L353.0 322.9 L351.3 323.1" stroke-width="3.12" fill="none" stroke="#fff"/>
<path d="M262.5 323.5 Q266.5 318.5 277 318.8" stroke-width="3.84" fill="none" />
<ellipse cx="607.6" cy="184" rx="16.8" ry="24.6" transform="rotate(-20 607.6 184)" stroke-width="3.0" fill="#fff" />
<ellipse cx="605" cy="185" rx="16.8" ry="24.6" transform="rotate(-20 605 185)" stroke-width="2.88" fill="#fff" />
<ellipse cx="603.6" cy="186.3" rx="9.3" ry="14.2" transform="rotate(-20 603.6 186.3)" stroke-width="3.0" fill="none" />
<ellipse cx="604.6" cy="187.3" rx="6.3" ry="10.8" transform="rotate(-20 604.6 187.3)" stroke-width="2.04" fill="none" />
<path d="M396.4 267.6 L596 174.6 L600 186 L605 197 L409 287 Z" stroke-width="0.0" fill="#fff" />
<path d="M396.4 267.6 L595.5 175" stroke-width="2.76" fill="none" />
<path d="M409 287 L604.5 196.6" stroke-width="2.76" fill="none" />
<ellipse cx="399.3" cy="279.2" rx="8.3" ry="12.3" transform="rotate(-18 399.3 279.2)" stroke-width="2.76" fill="#fff" />
<ellipse cx="400.2" cy="281.8" rx="5.6" ry="8" transform="rotate(-18 400.2 281.8)" stroke-width="1.92" fill="none" />
<ellipse cx="462.7" cy="258.2" rx="2.3" ry="3.3" transform="rotate(30 462.7 258.2)" stroke-width="2.04" fill="#fff" />
<text x="556.5" y="388.6" font-family="Liberation Sans, sans-serif" font-size="51.5" letter-spacing="-1.2" fill="none" stroke="#c2c2c2" stroke-width="1.25">AutoSoft</text>
</svg>
</body></html>
